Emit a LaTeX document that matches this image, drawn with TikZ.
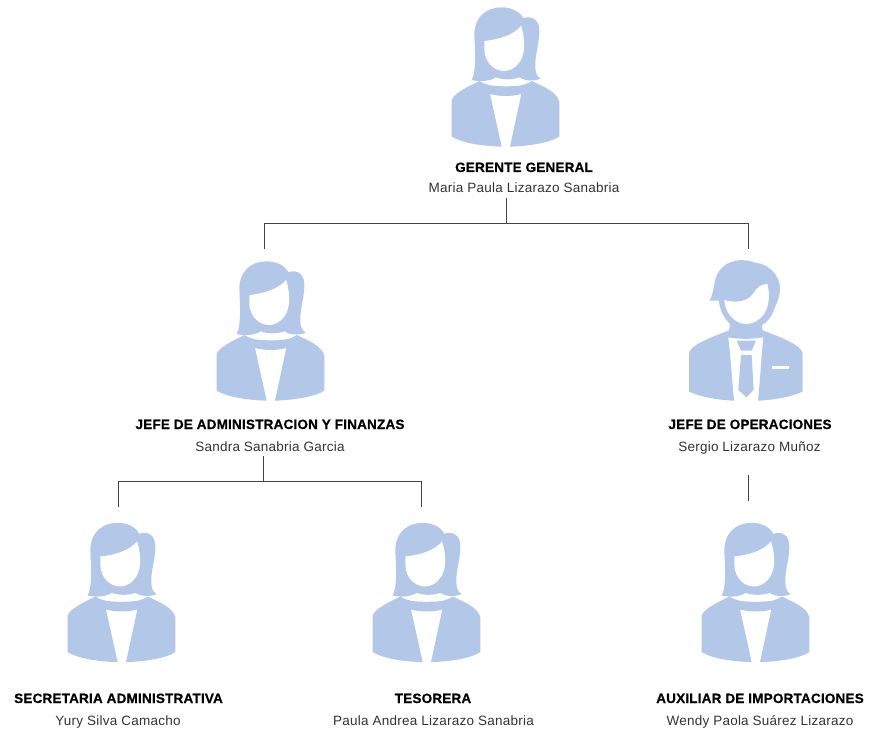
\documentclass[tikz,border=0pt]{standalone}
\usepackage{fontspec}
\setmainfont{Liberation Sans}
\newfontfamily\rolefont[FakeBold=0.6,LetterSpace=1.5]{Liberation Sans Bold}
\newfontfamily\namefont[LetterSpace=1.8]{Liberation Sans}
\definecolor{icon}{HTML}{B3C7E8}
\definecolor{txt}{HTML}{333333}
\definecolor{ln}{HTML}{444444}
\tikzset{
  x=1pt,y=-1pt,
  role/.style={font=\rolefont\fontsize{13.5}{15}\selectfont,text=black,inner sep=0pt,anchor=base},
  person/.style={font=\namefont\fontsize{13.5}{15}\selectfont,text=txt,inner sep=0pt,anchor=base},
  link/.style={draw=ln,line width=0.7pt},
  pics/woman/.style={code={
    \begin{scope}[x=0.3333pt,y=-0.3333pt]
    % body
    \fill[icon] (65,300) .. controls (72,280) and (110,262) .. (148,243)
      .. controls (160,250) and (170,254) .. (180,256)
      .. controls (210,260) and (245,260) .. (275,256)
      .. controls (285,254) and (295,250) .. (305,243)
      .. controls (340,260) and (380,275) .. (388,305) -- (388,410)
      .. controls (360,428) and (300,438) .. (240,440) -- (274,282)
      .. controls (245,290) and (210,290) .. (180,282) -- (215,440)
      .. controls (150,438) and (95,428) .. (65,410) -- cycle;
    % hair and neck
    \fill[icon] (125,240) .. controls (138,215) and (136,170) .. (133,105)
      .. controls (133,50) and (170,22) .. (215,22)
      .. controls (245,22) and (270,35) .. (280,55)
      .. controls (305,45) and (330,60) .. (328,95)
      .. controls (328,130) and (314,170) .. (316,200)
      .. controls (316,220) and (322,230) .. (332,236)
      .. controls (318,242) and (290,246) .. (268,232)
      .. controls (245,240) and (220,240) .. (197,232)
      .. controls (180,244) and (150,246) .. (125,240) -- cycle;
    % face
    \fill[white] (163,123) .. controls (210,118) and (250,105) .. (273,78)
      .. controls (282,100) and (285,140) .. (280,160)
      .. controls (272,195) and (245,213) .. (222,213)
      .. controls (195,213) and (165,190) .. (163,150) -- cycle;
    \end{scope}}},
  pics/man/.style={code={
    \begin{scope}[x=0.3333pt,y=-0.3333pt]
    % body
    \fill[icon] (57,310) .. controls (62,285) and (115,265) .. (180,240)
      -- (175,265) .. controls (180,300) and (187,400) .. (192,452)
      .. controls (140,450) and (90,440) .. (57,425) -- cycle;
    \fill[icon] (398,310) .. controls (393,285) and (340,265) .. (275,240)
      -- (280,265) .. controls (275,300) and (270,400) .. (264,452)
      .. controls (315,450) and (365,440) .. (398,425) -- cycle;
    % neck
    \fill[icon] (180,222) -- (275,222) -- (281,262) .. controls (245,268) and (210,268) .. (174,262) -- cycle;
    % head
    \fill[icon] (118,152) .. controls (135,125) and (128,90) .. (148,62)
      .. controls (170,32) and (215,22) .. (255,38)
      .. controls (300,42) and (330,80) .. (330,115)
      .. controls (330,145) and (318,160) .. (312,180)
      .. controls (298,222) and (258,240) .. (228,240)
      .. controls (195,240) and (155,215) .. (146,152) -- cycle;
    % face
    \fill[white] (163,150) .. controls (195,160) and (235,155) .. (250,130)
      .. controls (260,112) and (275,102) .. (292,102)
      .. controls (301,135) and (297,170) .. (282,192)
      .. controls (268,212) and (248,222) .. (228,222)
      .. controls (195,222) and (165,190) .. (163,150) -- cycle;
    % tie
    \fill[icon] (200,272) -- (258,272) -- (245,302) -- (213,302) -- cycle;
    \fill[icon] (213,315) -- (245,315) -- (251,420) -- (229,442) -- (205,420) -- cycle;
    % pocket
    \fill[white] (307,347) rectangle (356,358);
    \end{scope}}},
}
\begin{document}
\begin{tikzpicture}
\useasboundingbox (0,0) rectangle (870,730);
\pic at (430,0) {woman};
\pic at (195,254) {woman};
\pic at (670,250) {man};
\pic at (46,515.5) {woman};
\pic at (351,515.5) {woman};
\pic at (680,515.5) {woman};
\node[role] (gg) at (524,172) {GERENTE GENERAL};
\node[person] (ggn) at (524,193) {Maria Paula Lizarazo Sanabria};
\node[role] (ja) at (270,429) {JEFE DE ADMINISTRACION Y FINANZAS};
\node[person] (jan) at (270,451) {Sandra Sanabria Garcia};
\node[role] (jo) at (750,429) {JEFE DE OPERACIONES};
\node[person] (jon) at (749.5,451) {Sergio Lizarazo Muñoz};
\node[role] (sa) at (118.5,703) {SECRETARIA ADMINISTRATIVA};
\node[person] (san) at (118,725) {Yury Silva Camacho};
\node[role] (te) at (433,703) {TESORERA};
\node[person] (ten) at (433.5,725) {Paula Andrea Lizarazo Sanabria};
\node[role] (au) at (760,703) {AUXILIAR DE IMPORTACIONES};
\node[person] (aun) at (760,725) {Wendy Paola Suárez Lizarazo};
\coordinate (a1) at (506,198);
\coordinate (a2) at (506,223);
\coordinate (a3) at (264,223);
\coordinate (a4) at (264,249);
\coordinate (a5) at (748,223);
\coordinate (a6) at (748,249);
\draw[link] (a1) -- (a2);
\draw[link] (a4) -- (a3) -- (a5) -- (a6);
\coordinate (b1) at (263,456);
\coordinate (b2) at (263,481);
\coordinate (b3) at (118,481);
\coordinate (b4) at (118,507);
\coordinate (b5) at (421,481);
\coordinate (b6) at (421,507);
\draw[link] (b1) -- (b2);
\draw[link] (b4) -- (b3) -- (b5) -- (b6);
\coordinate (c1) at (748,475);
\coordinate (c2) at (748,501);
\draw[link] (c1) -- (c2);
\end{tikzpicture}
\end{document}
